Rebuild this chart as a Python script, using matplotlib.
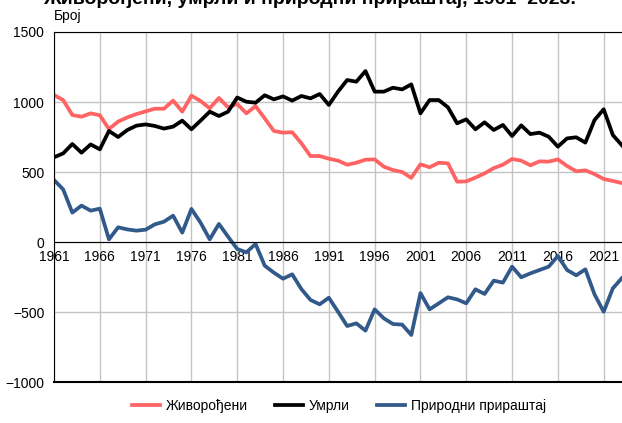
import numpy as np
import matplotlib.pyplot as plt

plt.rcParams['font.family'] = ['Liberation Sans', 'DejaVu Sans']

# Data
years = list(range(1961, 2024))
births = [1050, 1014, 907, 895, 919, 905, 807, 860, 890, 914,
          933, 952, 952, 1010, 931, 1045, 1007, 955, 1029, 962,
          986, 919, 971, 883, 793, 781, 784, 705, 614, 614,
          595, 581, 552, 566, 588, 590, 538, 514, 500, 458,
          555, 534, 566, 562, 431, 433, 460, 490, 528, 552,
          593, 581, 548, 576, 574, 590, 543, 505, 512, 485,
          450, 436, 421]
deaths = [605, 633, 700, 638, 697, 662, 793, 750, 800, 831,
          840, 829, 810, 824, 867, 805, 867, 931, 900, 931,
          1032, 1002, 995, 1048, 1019, 1040, 1010, 1043, 1026, 1057,
          979, 1074, 1157, 1145, 1221, 1074, 1074, 1102, 1090, 1126,
          919, 1014, 1014, 962, 848, 876, 805, 855, 800, 836,
          757, 833, 771, 781, 752, 681, 740, 748, 710, 871,
          948, 764, 690]
natural = [443, 376, 210, 260, 224, 238, 19, 105, 90, 81,
           88, 126, 145, 188, 67, 236, 138, 19, 129, 38,
           -50, -74, -14, -169, -219, -262, -231, -336, -414, -445,
           -398, -498, -600, -581, -633, -481, -545, -586, -590, -664,
           -365, -481, -438, -395, -410, -438, -338, -371, -276, -290,
           -176, -252, -224, -200, -176, -100, -200, -238, -195, -374,
           -498, -331, -257]

tick_years = list(range(1961, 2024, 5))

fig = plt.figure(figsize=(6.22, 4.23), dpi=100)
ax = fig.add_axes([54 / 622, 41 / 423, 1 - 54 / 622, 350 / 423])

ax.plot(years, births, color='#ff6363', lw=2.7, label='Живорођени')
ax.plot(years, deaths, color='black', lw=2.7, label='Умрли')
ax.plot(years, natural, color='#31598a', lw=2.7, label='Природни прираштај')

ax.set_xlim(1961, 2023)
ax.set_ylim(-1000, 1500)
ax.set_yticks(range(-1000, 1501, 500))
ax.set_xticks(tick_years)
ax.grid(True, color='#c4c4c4', lw=1)
ax.set_axisbelow(True)

# x axis sits on the zero line
ax.spines['bottom'].set_position(('data', 0))
ax.spines['bottom'].set_color('black')
ax.spines['right'].set_visible(False)
ax.axhline(-1000, color='black', lw=1.5, clip_on=False)
ax.tick_params(length=0, labelsize=10, pad=6)
ax.tick_params(axis='y', pad=7)

# title is partly cut off at the top edge, as in the original
fig.text(43 / 622, 1 - 4 / 423, 'Живорођени, умрли и природни прираштај, 1961–2023.',
         fontsize=14, fontweight='bold', ha='left', va='baseline')
fig.text(54 / 622, 1 - 16 / 423, 'Број', fontsize=10, ha='left', va='center')

fig.legend(loc='lower center', bbox_to_anchor=(0.545, -0.005), ncol=3, frameon=False,
           fontsize=10, handlelength=2.0, handletextpad=0.4, columnspacing=2.0)

fig.savefig('out.png', dpi=100)
